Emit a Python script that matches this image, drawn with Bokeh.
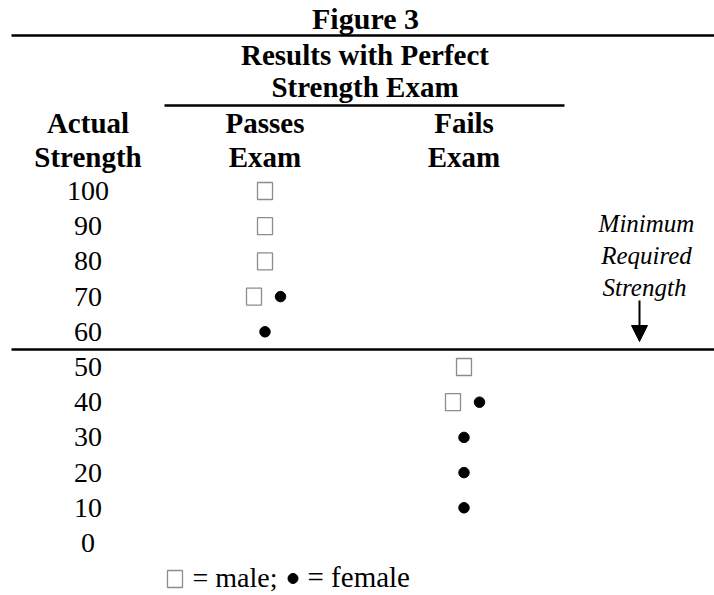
from bokeh.plotting import figure
from bokeh.models import Range1d, Arrow, NormalHead, ColumnDataSource
from bokeh.core.properties import value
from bokeh.embed import file_html
from bokeh.resources import INLINE

# ---------------- data ----------------
title = "Figure 3"
group_header = ["Results with Perfect", "Strength Exam"]
row_header = ["Actual", "Strength"]
col_headers = [["Passes", "Exam"], ["Fails", "Exam"]]
strength_ticks = [100, 90, 80, 70, 60, 50, 40, 30, 20, 10, 0]
male_passes = [100, 90, 80, 70]
female_passes = [70, 60]
male_fails = [50, 40]
female_fails = [40, 30, 20, 10]
minimum_required = 55
annotation = ["Minimum", "Required", "Strength"]
legend_male = "= male;"
legend_female = "= female"

# ---------------- layout ----------------
W, H = 714, 595
# vertical mapping: page_y of a row centre = 542.5 - 3.52 * strength
Y0, K = 542.5, 3.52
def py(page_y):
    return (Y0 - page_y) / K

FONT = value("Liberation Serif")
COL_NUM = 87.5
COL_PASS = 264.5
COL_FAIL = 463.5
BASE_SHIFT = 0.35  # rendered baseline sits this fraction of the font size below y

p = figure(width=W, height=H, x_range=Range1d(0, W),
           y_range=Range1d(py(H), py(0)),
           output_backend="svg", toolbar_location=None,
           x_axis_location=None, y_axis_location=None, min_border=0)
p.grid.visible = False
p.outline_line_color = None
p.background_fill_color = "white"
p.border_fill_color = "white"

def txt(xs, baselines, texts, size, style="normal", align="center"):
    ys = [py(b - BASE_SHIFT * size) for b in baselines]
    p.text(x=xs, y=ys, text=texts,
           text_font=FONT, text_font_size=f"{size}px", text_font_style=style,
           text_align=align, text_baseline="alphabetic", text_color="black")

# headers
txt([365], [28], [title], 30, "bold")
txt([364.5, 364.5], [64.5, 97], group_header, 29, "bold")
txt([COL_NUM, COL_NUM], [133, 167], row_header, 29, "bold")
for cx, hdr in zip([COL_PASS, COL_FAIL], col_headers):
    txt([cx, cx], [133, 167], hdr, 29, "bold")

# rules
p.segment(x0=[11, 164], y0=[py(35), py(105)], x1=[W, 564], y1=[py(35), py(105)],
          line_color="black", line_width=2.5)
p.segment(x0=[11], y0=[minimum_required], x1=[W], y1=[minimum_required],
          line_color="black", line_width=2.5)

# strength labels, centred on their rows
p.text(x=[COL_NUM] * len(strength_ticks), y=strength_ticks,
       text=[str(s) for s in strength_ticks], text_font=FONT, text_font_size="28px",
       text_align="center", text_baseline="alphabetic", text_color="black")

# markers
def positions(males, females, cx):
    mx, fx = [], []
    for s in males:
        mx.append(cx - 11 if s in females else cx)
    for s in females:
        fx.append(cx + 15.5 if s in males else cx)
    return mx, fx

mpx, fpx = positions(male_passes, female_passes, COL_PASS)
mfx, ffx = positions(male_fails, female_fails, COL_FAIL)

BOX_W, BOX_H, BOX_C = 15, 17, "#8c8c8c"
boxes = ColumnDataSource(dict(x=mpx + mfx, y=male_passes + male_fails))
dots = ColumnDataSource(dict(x=fpx + ffx, y=female_passes + female_fails))
p.rect(x="x", y="y", width=BOX_W, height=BOX_H, width_units="screen", height_units="screen",
       fill_color=None, line_color=BOX_C, line_width=1.3, source=boxes)
p.scatter(x="x", y="y", size=10.5, marker="circle", fill_color="black",
          line_color="black", source=dots)

# annotation
txt([646, 646, 644], [232, 264, 295.5], annotation, 25, "italic")
p.add_layout(Arrow(end=NormalHead(size=16, fill_color="black", line_color="black"),
                   x_start=639, y_start=py(300), x_end=639, y_end=py(341),
                   line_width=2, line_color="black"))

# legend
p.rect(x=[174.5], y=[py(578.5)], width=BOX_W, height=BOX_H, width_units="screen",
       height_units="screen", fill_color=None, line_color=BOX_C, line_width=1.3)
txt([192], [587], [legend_male], 28, "normal", "left")
p.scatter(x=[292.5], y=[py(578)], size=10, marker="circle", fill_color="black",
          line_color="black")
txt([307], [587], [legend_female], 29, "normal", "left")

open("out.html", "w").write(file_html(p, INLINE))
